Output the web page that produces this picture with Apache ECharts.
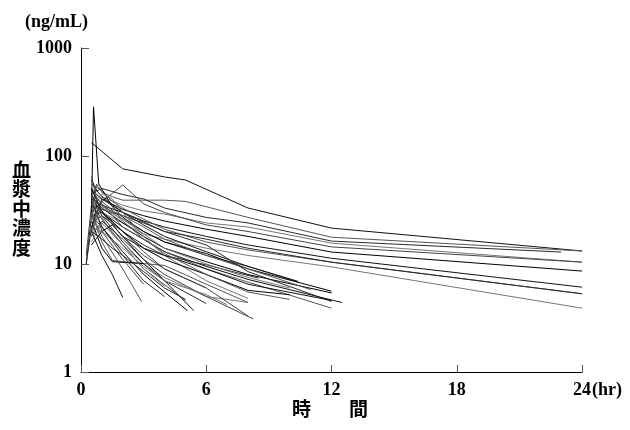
<!DOCTYPE html>
<html>
<head>
<meta charset="utf-8">
<script src="https://cdn.jsdelivr.net/npm/echarts@6/dist/echarts.min.js"></script>
<style>html,body{margin:0;padding:0;background:#fff}#c{width:630px;height:430px}</style>
</head>
<body>
<div id="c"></div>
<script>
// x ticks (hours) and y ticks (ng/mL)
const xTicks = [0, 6, 12, 18, 24];
const yTicks = [1, 10, 100, 1000];
const yUnit = '(ng/mL)';
const yTitle = '血漿中濃度';
const xTitle = '時\u3000\u3000間';
const xUnit = '(hr)';

// each subject: [time (hr), concentration (ng/mL)]
const s01 = [[0.5,133],[2,76],[4,64],[5,60],[8,33],[12,21.5],[24,13.2]];
const s02 = [[0.5,28],[0.75,55],[1,46],[1.5,42],[2,39],[4,39],[5,38],[8,27],[12,17.7],[24,13.2]];
const s03 = [[0.5,45],[1,50],[2,44],[3,40],[4,33],[6,27],[8,24],[12,16.3],[23,12.9]];
const s04 = [[0.5,34],[1,42],[2,35],[3,31],[4,29],[6,24],[8,22],[12,15.6],[24,10.4]];
const s05 = [[0.5,22],[1,38],[1.5,45],[2,54],[3,36],[4,30],[6,23],[8,20],[12,14.4],[24,10.4]];
const s06 = [[0.5,50],[0.75,44],[1,40],[2,32],[3,28],[4,25],[6,21],[8,18],[12,12.9],[24,8.6]];
const s07 = [[0.5,40],[1,35],[2,30],[3,25],[4,22],[6,18],[8,15],[12,11.3],[24,6.1]];
const s08 = [[0.5,55],[1,48],[1.5,38],[2,33],[3,26],[4,21],[6,16],[8,13.5],[12,10.4],[24,5.3]];
const s09 = [[0.5,26],[1,32],[2,28],[3,24],[4,20],[6,17],[8,14],[12,10.4],[24,5.3]];
const s10 = [[0.5,36],[1,30],[2,24],[3,19],[4,17],[6,14],[8,12],[12,9.4],[24,3.9]];
const s11 = [[0.5,30],[1,38],[2,26],[3,20],[4,16],[6,12],[8,9.5],[10.4,6.8]];
const s12 = [[0.5,42],[1,33],[2,24],[3,18],[4,14],[6,10.5],[8,8],[12,5.4]];
const s13 = [[0.5,20],[0.75,35],[1,30],[2,22],[4,13],[6,9.5],[8,7.2],[12.5,4.4]];
const s14 = [[0.5,48],[1,36],[2,22],[3,17],[4,13],[6,9],[8,6.8],[12,3.9]];
const s15 = [[0.5,24],[1,28],[2,20],[3,15],[4,12],[6,9.8],[8.5,7.4]];
const s16 = [[0.5,33],[1,27],[1.5,19],[2,15],[3,10],[4,7.5],[6,5],[8,4.4]];
const s17 = [[0.5,18],[1,25],[2,17],[3,11],[4,8],[6,5],[8.25,3.1]];
const s18 = [[0.5,38],[1,22],[2,13],[3,8],[4,5.5],[5.1,3.7]];
const s19 = [[0.5,28],[1,30],[2,18],[3,11],[4,7],[5.4,3.7]];
const s20 = [[0.5,30],[1,16],[1.5,10.8],[2,10.5],[4,9.7],[6,6.5],[8,4.4]];
const s21 = [[0.5,45],[1,28],[2,16],[3,10],[4,7],[6,4.3]];
const s22 = [[0.5,22],[1,20],[2,14],[3,9.5],[4,7],[6,5.2],[7,4.2]];
const s23 = [[0.25,12],[0.5,35],[1,26],[2,15],[3,9],[5,4.6]];
const s24 = [[0.5,25],[1,14],[1.5,10.5],[3,10.1]];
const s25 = [[0.5,20],[1,12],[1.5,8],[2,4.9]];
const s26 = [[0.5,30],[1,18],[2,9],[2.9,4.5]];
const s27 = [[0.25,10],[0.5,28],[1,22],[2,12],[3,7],[4,5]];
const s28 = [[0.5,16],[1,24],[2,15],[3,9],[4,6.2]];
const s29 = [[0.5,40],[0.75,30],[1,20],[2,11],[3,6.5]];
const s30 = [[0.5,30],[0.6,285],[0.85,55],[1.5,34],[2,27],[3,20],[4,16],[6,12.5],[8,9],[12,5.6]];
const s31 = [[0.5,60],[0.75,48],[1,42],[2,30],[3,23],[4,18],[6,13],[8,9.5],[10.4,6.9]];
const s32 = [[0.5,18],[0.75,28],[1,34],[2,28],[3,22],[4,17],[6,12],[8,9],[11,5.8]];
const s33 = [[0.25,10],[0.5,22],[1,40],[2,30],[4,20],[6,15],[8,8.5],[12,4.5]];
const s34 = [[0.5,35],[1,45],[1.5,40],[2,30],[3,18],[4,12],[6,7],[8,4.8]];
const s35 = [[0.5,27],[0.75,38],[1,31],[2,20],[3,13],[4,9],[6,6],[8,3.3]];
const s36 = [[0.5,50],[1,30],[2,20],[3,14],[4,11],[6,8],[8,5.7],[10,5.2]];
const s37 = [[0.5,15],[1,20],[1.5,23],[2,18],[3,14],[4,12],[6,9],[8,6.5],[12,4.6]];
const s38 = [[0.5,32],[0.75,40],[1,36],[2,25],[3,17],[4,12.5],[6,8],[8,5.5],[10,4.7]];
const s39 = [[0.5,20],[1,17],[1.5,14],[2,12],[3,8.5],[4,6],[5,4.7]];
const s40 = [[0.5,25],[1,33],[2,26],[3,19],[4,14],[6,10],[8,7.5],[10,6]];
const s41 = [[0.5,65],[0.75,40],[1,30],[2,18],[3,12],[4,9],[6,6]];

const subjects = [s01,s02,s03,s04,s05,s06,s07,s08,s09,s10,s11,s12,s13,s14,s15,s16,s17,s18,s19,
  s20,s21,s22,s23,s24,s25,s26,s27,s28,s29,s30,s31,s32,s33,s34,s35,s36,s37,s38,s39,s40,s41];

const shades = ['#111', '#555', '#2a2a2a', '#777', '#444', '#000'];
const numFont = {fontFamily: 'Liberation Serif', fontWeight: 'bold', fontSize: 18, color: '#000'};
const cjkFont = 'Noto Sans CJK JP';

const chart = echarts.init(document.getElementById('c'), null, {renderer: 'canvas'});
chart.setOption({
  animation: false,
  backgroundColor: '#fff',
  grid: {left: 81, right: 48, top: 48, bottom: 58},
  xAxis: {
    type: 'value', min: 0, max: 24, interval: 6,
    axisLine: {lineStyle: {color: '#000', width: 1}},
    axisTick: {inside: true, length: 7, lineStyle: {color: '#555'}},
    splitLine: {show: false},
    axisLabel: Object.assign({margin: 9, formatter: v => xTicks.includes(v) ? String(v) : ''}, numFont)
  },
  yAxis: {
    type: 'log', logBase: 10, min: yTicks[0], max: yTicks[yTicks.length - 1],
    axisLine: {show: true, lineStyle: {color: '#000', width: 1}},
    axisTick: {show: true, inside: true, length: 8, lineStyle: {color: '#555'}},
    minorTick: {show: false},
    splitLine: {show: false},
    axisLabel: Object.assign({margin: 9, formatter: v => String(v)}, numFont)
  },
  series: subjects.map((d, i) => ({
    type: 'line',
    data: d,
    symbol: 'none',
    lineStyle: {color: shades[i % shades.length], width: 1},
    silent: true
  })),
  graphic: [
    {type: 'text', left: 25, top: 13, style: {text: yUnit, font: 'bold 18px "Liberation Serif"', fill: '#000'}},
    {type: 'text', left: 12, top: 160, style: {text: yTitle.split('').join('\n'), font: 'bold 19px "' + cjkFont + '"', lineHeight: 19.5, fill: '#000', align: 'left'}},
    {type: 'text', left: 592, top: 381, style: {text: xUnit, font: 'bold 18px "Liberation Serif"', fill: '#000'}},
    {type: 'text', left: 292, top: 399, style: {text: xTitle, font: 'bold 19px "' + cjkFont + '"', fill: '#000'}}
  ]
});
</script>
</body>
</html>
